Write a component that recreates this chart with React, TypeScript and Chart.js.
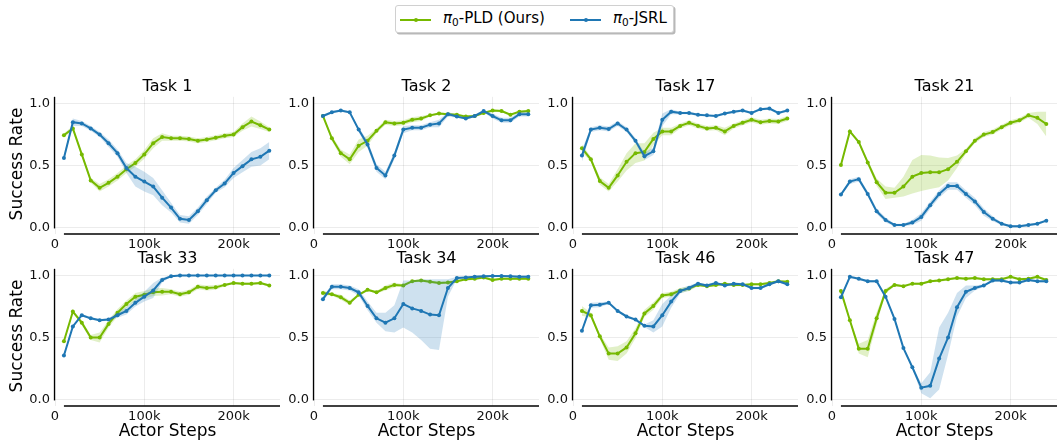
import React, { useEffect, useRef } from "react";
import { Chart, registerables } from "chart.js";
Chart.register(...registerables);

// ---------------- data ----------------
const STEPS = [10000, 20000, 30000, 40000, 50000, 60000, 70000, 80000, 90000, 100000, 110000, 120000,
  130000, 140000, 150000, 160000, 170000, 180000, 190000, 200000, 210000, 220000, 230000, 240000];
const X_TICKS = [0, 100000, 200000];
const Y_TICKS = [0, 0.5, 1.0];
const SERIES_NAMES = ["PLD (Ours)", "JSRL"];

const pld1 = [0.745, 0.80, 0.59, 0.38, 0.32, 0.36, 0.41, 0.47, 0.52, 0.59, 0.68, 0.73, 0.72, 0.72, 0.715, 0.70, 0.71, 0.725, 0.74, 0.75, 0.81, 0.855, 0.825, 0.79];
const pld1Err = [0.015, 0.02, 0.02, 0.02, 0.03, 0.03, 0.03, 0.03, 0.03, 0.035, 0.04, 0.03, 0.02, 0.02, 0.02, 0.02, 0.02, 0.02, 0.02, 0.02, 0.03, 0.04, 0.03, 0.02];
const jsrl1 = [0.56, 0.85, 0.84, 0.80, 0.75, 0.68, 0.60, 0.48, 0.41, 0.37, 0.33, 0.24, 0.16, 0.07, 0.06, 0.13, 0.22, 0.30, 0.355, 0.44, 0.495, 0.55, 0.57, 0.62];
const jsrl1Err = [0.02, 0.03, 0.02, 0.02, 0.02, 0.03, 0.03, 0.04, 0.08, 0.08, 0.07, 0.06, 0.04, 0.03, 0.03, 0.03, 0.03, 0.02, 0.03, 0.04, 0.05, 0.06, 0.07, 0.07];

const pld2 = [0.90, 0.72, 0.60, 0.55, 0.66, 0.70, 0.78, 0.85, 0.84, 0.845, 0.87, 0.88, 0.905, 0.92, 0.915, 0.91, 0.895, 0.90, 0.925, 0.945, 0.94, 0.91, 0.935, 0.94];
const pld2Err = [0.01, 0.02, 0.03, 0.04, 0.05, 0.04, 0.02, 0.02, 0.02, 0.02, 0.02, 0.02, 0.01, 0.01, 0.01, 0.01, 0.01, 0.01, 0.01, 0.01, 0.01, 0.01, 0.01, 0.01];
const jsrl2 = [0.90, 0.93, 0.945, 0.93, 0.79, 0.67, 0.48, 0.42, 0.58, 0.79, 0.805, 0.805, 0.83, 0.84, 0.915, 0.895, 0.88, 0.90, 0.94, 0.90, 0.865, 0.865, 0.915, 0.915];
const jsrl2Err = [0.01, 0.01, 0.01, 0.01, 0.02, 0.03, 0.03, 0.03, 0.03, 0.03, 0.02, 0.02, 0.02, 0.03, 0.02, 0.01, 0.01, 0.01, 0.01, 0.02, 0.02, 0.02, 0.02, 0.02];

const pld17 = [0.64, 0.55, 0.375, 0.32, 0.42, 0.53, 0.60, 0.61, 0.715, 0.775, 0.775, 0.82, 0.845, 0.82, 0.80, 0.805, 0.775, 0.82, 0.845, 0.87, 0.85, 0.86, 0.855, 0.88];
const pld17Err = [0.03, 0.02, 0.03, 0.03, 0.05, 0.07, 0.08, 0.07, 0.05, 0.03, 0.03, 0.02, 0.02, 0.02, 0.02, 0.02, 0.03, 0.02, 0.02, 0.02, 0.02, 0.02, 0.02, 0.02];
const jsrl17 = [0.58, 0.79, 0.805, 0.795, 0.84, 0.79, 0.70, 0.575, 0.615, 0.87, 0.935, 0.925, 0.925, 0.91, 0.905, 0.90, 0.92, 0.935, 0.945, 0.925, 0.955, 0.96, 0.925, 0.945];
const jsrl17Err = [0.05, 0.02, 0.02, 0.02, 0.02, 0.02, 0.02, 0.03, 0.03, 0.05, 0.02, 0.01, 0.01, 0.01, 0.01, 0.01, 0.01, 0.01, 0.01, 0.01, 0.01, 0.01, 0.01, 0.01];

const pld21 = [0.505, 0.775, 0.69, 0.525, 0.365, 0.28, 0.28, 0.33, 0.41, 0.44, 0.445, 0.445, 0.47, 0.53, 0.615, 0.70, 0.75, 0.77, 0.81, 0.845, 0.865, 0.905, 0.885, 0.835];
const pld21Err = [0.01, 0.01, 0.01, 0.02, 0.03, 0.05, 0.04, 0.08, 0.135, 0.145, 0.135, 0.12, 0.09, 0.05, 0.02, 0.02, 0.02, 0.02, 0.02, 0.02, 0.02, 0.02, 0.05, 0.10];
const jsrl21 = [0.265, 0.37, 0.39, 0.27, 0.13, 0.06, 0.02, 0.02, 0.04, 0.085, 0.18, 0.27, 0.335, 0.335, 0.27, 0.21, 0.125, 0.07, 0.03, 0.01, 0.01, 0.02, 0.03, 0.055];
const jsrl21Err = [0.01, 0.02, 0.02, 0.02, 0.02, 0.02, 0.01, 0.01, 0.02, 0.03, 0.03, 0.03, 0.03, 0.03, 0.03, 0.03, 0.03, 0.02, 0.01, 0.01, 0.01, 0.01, 0.01, 0.01];

const pld33 = [0.47, 0.71, 0.62, 0.50, 0.50, 0.61, 0.70, 0.77, 0.83, 0.845, 0.865, 0.87, 0.87, 0.85, 0.865, 0.91, 0.90, 0.905, 0.925, 0.94, 0.935, 0.935, 0.94, 0.92];
const pld33Err = [0.01, 0.01, 0.02, 0.02, 0.04, 0.03, 0.03, 0.03, 0.03, 0.03, 0.03, 0.03, 0.02, 0.02, 0.02, 0.02, 0.02, 0.02, 0.01, 0.01, 0.01, 0.01, 0.01, 0.01];
const jsrl33 = [0.355, 0.59, 0.68, 0.655, 0.64, 0.645, 0.68, 0.715, 0.78, 0.83, 0.88, 0.965, 0.995, 1, 1, 1, 1, 1, 1, 1, 1, 1, 1, 1];
const jsrl33Err = [0.01, 0.01, 0.01, 0.01, 0.01, 0.01, 0.02, 0.03, 0.03, 0.04, 0.06, 0.02, 0.005, 0, 0, 0, 0, 0, 0, 0, 0, 0, 0, 0];

const pld34 = [0.86, 0.85, 0.825, 0.78, 0.845, 0.885, 0.865, 0.90, 0.925, 0.92, 0.955, 0.96, 0.95, 0.94, 0.945, 0.955, 0.97, 0.975, 0.985, 0.965, 0.975, 0.975, 0.975, 0.975];
const pld34Err = [0.02, 0.01, 0.02, 0.02, 0.01, 0.01, 0.01, 0.02, 0.02, 0.01, 0.01, 0.01, 0.01, 0.01, 0.01, 0.01, 0.01, 0.01, 0.01, 0.01, 0.01, 0.01, 0.01, 0.01];
const jsrl34 = [0.81, 0.91, 0.91, 0.90, 0.865, 0.755, 0.655, 0.62, 0.655, 0.77, 0.735, 0.715, 0.685, 0.68, 0.90, 0.98, 0.985, 0.99, 0.995, 0.997, 0.997, 0.995, 0.99, 0.99];
const jsrl34Lo = [0.79, 0.89, 0.89, 0.88, 0.84, 0.72, 0.62, 0.55, 0.54, 0.58, 0.54, 0.48, 0.41, 0.40, 0.83, 0.97, 0.98, 0.98, 0.99, 0.99, 0.99, 0.99, 0.98, 0.98];
const jsrl34Hi = [0.83, 0.93, 0.93, 0.92, 0.89, 0.79, 0.70, 0.70, 0.76, 0.96, 0.96, 0.97, 0.97, 0.97, 0.97, 0.99, 0.99, 1.0, 1.0, 1.0, 1.0, 1.0, 1.0, 1.0];

const pld46 = [0.715, 0.68, 0.51, 0.37, 0.37, 0.42, 0.535, 0.695, 0.755, 0.84, 0.85, 0.88, 0.895, 0.925, 0.915, 0.925, 0.935, 0.925, 0.925, 0.93, 0.93, 0.94, 0.955, 0.95];
const pld46Err = [0.04, 0.02, 0.02, 0.05, 0.06, 0.05, 0.04, 0.03, 0.03, 0.02, 0.02, 0.02, 0.02, 0.01, 0.01, 0.01, 0.01, 0.01, 0.01, 0.01, 0.01, 0.01, 0.01, 0.01];
const jsrl46 = [0.555, 0.76, 0.765, 0.78, 0.715, 0.67, 0.645, 0.595, 0.59, 0.68, 0.79, 0.875, 0.90, 0.935, 0.92, 0.94, 0.92, 0.935, 0.93, 0.90, 0.90, 0.93, 0.955, 0.93];
const jsrl46Err = [0.01, 0.02, 0.02, 0.01, 0.01, 0.01, 0.01, 0.01, 0.05, 0.09, 0.05, 0.02, 0.02, 0.01, 0.01, 0.01, 0.01, 0.01, 0.01, 0.01, 0.01, 0.01, 0.01, 0.01];

const pld47 = [0.875, 0.64, 0.41, 0.41, 0.655, 0.875, 0.925, 0.915, 0.935, 0.935, 0.955, 0.96, 0.97, 0.98, 0.975, 0.98, 0.97, 0.97, 0.97, 0.99, 0.97, 0.975, 0.99, 0.965];
const pld47Err = [0.02, 0.01, 0.04, 0.07, 0.05, 0.02, 0.01, 0.01, 0.01, 0.01, 0.01, 0.01, 0.01, 0.01, 0.01, 0.01, 0.01, 0.01, 0.01, 0.01, 0.01, 0.01, 0.01, 0.01];
const jsrl47 = [0.825, 0.99, 0.975, 0.955, 0.955, 0.83, 0.65, 0.415, 0.26, 0.095, 0.11, 0.33, 0.50, 0.745, 0.87, 0.90, 0.92, 0.96, 0.96, 0.945, 0.945, 0.965, 0.955, 0.955];
const jsrl47Lo = [0.81, 0.98, 0.965, 0.945, 0.945, 0.82, 0.64, 0.405, 0.25, 0.05, 0.01, 0.08, 0.36, 0.67, 0.82, 0.88, 0.91, 0.95, 0.95, 0.935, 0.935, 0.955, 0.945, 0.945];
const jsrl47Hi = [0.84, 1.0, 0.985, 0.965, 0.965, 0.84, 0.66, 0.425, 0.27, 0.13, 0.22, 0.58, 0.70, 0.86, 0.92, 0.92, 0.93, 0.97, 0.97, 0.955, 0.955, 0.975, 0.965, 0.965];

// ---------------- styling ----------------
const GREEN = "#76b900";
const GREEN_FILL = "rgba(118,185,0,0.22)";
const BLUE = "#1f77b4";
const BLUE_FILL = "rgba(31,119,180,0.22)";
const GRID = "rgba(0,0,0,0.075)";
const FONT = "'DejaVu Sans', 'Liberation Sans', sans-serif";

const lower = (m: number[], e: number[]) => m.map((v, i) => v - e[i]);
const upper = (m: number[], e: number[]) => m.map((v, i) => v + e[i]);

type PanelSpec = {
  title: string;
  pld: number[]; pldLo: number[]; pldHi: number[];
  jsrl: number[]; jsrlLo: number[]; jsrlHi: number[];
};

const PANELS: PanelSpec[] = [
  { title: "Task 1", pld: pld1, pldLo: lower(pld1, pld1Err), pldHi: upper(pld1, pld1Err), jsrl: jsrl1, jsrlLo: lower(jsrl1, jsrl1Err), jsrlHi: upper(jsrl1, jsrl1Err) },
  { title: "Task 2", pld: pld2, pldLo: lower(pld2, pld2Err), pldHi: upper(pld2, pld2Err), jsrl: jsrl2, jsrlLo: lower(jsrl2, jsrl2Err), jsrlHi: upper(jsrl2, jsrl2Err) },
  { title: "Task 17", pld: pld17, pldLo: lower(pld17, pld17Err), pldHi: upper(pld17, pld17Err), jsrl: jsrl17, jsrlLo: lower(jsrl17, jsrl17Err), jsrlHi: upper(jsrl17, jsrl17Err) },
  { title: "Task 21", pld: pld21, pldLo: lower(pld21, pld21Err), pldHi: upper(pld21, pld21Err), jsrl: jsrl21, jsrlLo: lower(jsrl21, jsrl21Err), jsrlHi: upper(jsrl21, jsrl21Err) },
  { title: "Task 33", pld: pld33, pldLo: lower(pld33, pld33Err), pldHi: upper(pld33, pld33Err), jsrl: jsrl33, jsrlLo: lower(jsrl33, jsrl33Err), jsrlHi: upper(jsrl33, jsrl33Err) },
  { title: "Task 34", pld: pld34, pldLo: lower(pld34, pld34Err), pldHi: upper(pld34, pld34Err), jsrl: jsrl34, jsrlLo: jsrl34Lo, jsrlHi: jsrl34Hi },
  { title: "Task 46", pld: pld46, pldLo: lower(pld46, pld46Err), pldHi: upper(pld46, pld46Err), jsrl: jsrl46, jsrlLo: lower(jsrl46, jsrl46Err), jsrlHi: upper(jsrl46, jsrl46Err) },
  { title: "Task 47", pld: pld47, pldLo: lower(pld47, pld47Err), pldHi: upper(pld47, pld47Err), jsrl: jsrl47, jsrlLo: jsrl47Lo, jsrlHi: jsrl47Hi },
];

// layout
const COL_X0 = [55, 314, 573, 832]; // pixel of x = 0
const ROW_TOP = [94, 266]; // chart area top
const PAD_L = 50, PAD_T = 10, PAD_R = 10, PAD_B = 25;
const PLOT_W = 225, PLOT_H = 140;
const CANVAS_W = PAD_L + PLOT_W + PAD_R;
const CANVAS_H = PAD_T + PLOT_H + PAD_B;
const X_MAX = 252000;
const Y_MIN = -0.053, Y_MAX = 1.055;

const pts = (arr: number[]) => arr.map((y, i) => ({ x: STEPS[i], y }));

const spinePlugin = {
  id: "spines",
  afterDatasetsDraw(chart: any) {
    const { ctx, chartArea, scales } = chart;
    ctx.save();
    ctx.strokeStyle = "#000";
    ctx.lineWidth = 1.3;
    const xl = scales.x.getPixelForValue(0) - 0.5;
    ctx.beginPath();
    ctx.moveTo(xl, chartArea.top);
    ctx.lineTo(xl, scales.y.getPixelForValue(0) + 1);
    ctx.stroke();
    const yb = chartArea.bottom;
    ctx.beginPath();
    ctx.moveTo(scales.x.getPixelForValue(STEPS[0]), yb);
    ctx.lineTo(chartArea.right, yb);
    ctx.stroke();
    ctx.restore();
  },
};

function Panel({ spec, left, top }: { spec: PanelSpec; left: number; top: number }) {
  const ref = useRef<HTMLCanvasElement | null>(null);
  useEffect(() => {
    if (!ref.current) return;
    const lineDs = (d: number[], color: string, order: number) => ({
      data: pts(d), borderColor: color, backgroundColor: color, borderWidth: 2,
      pointRadius: 2, pointHoverRadius: 2, pointBorderWidth: 0, fill: false, order, tension: 0,
    });
    const bandDs = (d: number[], fill: any, bg: string, order: number) => ({
      data: pts(d), borderWidth: 0, borderColor: "rgba(0,0,0,0)", pointRadius: 0, pointHoverRadius: 0,
      fill, backgroundColor: bg, order, tension: 0,
    });
    const chart = new Chart(ref.current, {
      type: "line",
      data: {
        datasets: [
          bandDs(spec.pldLo, false, GREEN_FILL, 6),
          bandDs(spec.pldHi, "-1", GREEN_FILL, 5),
          lineDs(spec.pld, GREEN, 4),
          bandDs(spec.jsrlLo, false, BLUE_FILL, 3),
          bandDs(spec.jsrlHi, "-1", BLUE_FILL, 2),
          lineDs(spec.jsrl, BLUE, 1),
        ] as any,
      },
      options: {
        animation: false,
        responsive: false,
        maintainAspectRatio: false,
        devicePixelRatio: 1,
        layout: { padding: { left: 0, top: PAD_T, right: PAD_R, bottom: 0 } },
        plugins: { legend: { display: false }, tooltip: { enabled: false }, title: { display: false } },
        events: [],
        scales: {
          x: {
            type: "linear", min: 0, max: X_MAX,
            afterBuildTicks: (s: any) => { s.ticks = X_TICKS.map((v) => ({ value: v })); },
            afterFit: (s: any) => { s.height = PAD_B; },
            ticks: {
              callback: (v: any) => (v === 0 ? "0" : `${v / 1000}k`),
              font: { family: FONT, size: 13 }, color: "#111", padding: 3, maxRotation: 0, autoSkip: false,
            },
            grid: { color: GRID, drawTicks: false, lineWidth: 1 },
            border: { display: false },
          },
          y: {
            type: "linear", min: Y_MIN, max: Y_MAX,
            afterBuildTicks: (s: any) => { s.ticks = Y_TICKS.map((v) => ({ value: v })); },
            afterFit: (s: any) => { s.width = PAD_L; },
            ticks: {
              callback: (v: any) => Number(v).toFixed(1),
              font: { family: FONT, size: 13 }, color: "#111", padding: 5, autoSkip: false,
            },
            grid: { color: GRID, drawTicks: false, lineWidth: 1 },
            border: { display: false },
          },
        },
      } as any,
      plugins: [spinePlugin],
    });
    return () => chart.destroy();
  }, [spec]);
  return (
    <canvas
      ref={ref}
      width={CANVAS_W}
      height={CANVAS_H}
      style={{ position: "absolute", left, top, width: CANVAS_W, height: CANVAS_H }}
    />
  );
}

function Label({ text, x, baseline, size }: { text: string; x: number; baseline: number; size: number }) {
  return (
    <div
      style={{
        position: "absolute", left: x, top: baseline - 0.846 * size, fontFamily: FONT, fontSize: size,
        lineHeight: `${size}px`, whiteSpace: "nowrap", transform: "translateX(-50%)", color: "#000",
      }}
    >
      {text}
    </div>
  );
}

function LegendItem({ color, name, left }: { color: string; name: string; left: number }) {
  return (
    <>
      <div style={{ position: "absolute", left, top: 12.5, width: 31, height: 2, background: color }} />
      <div style={{ position: "absolute", left: left + 13.5, top: 11.5, width: 4, height: 4, borderRadius: 2, background: color }} />
      <div style={{ position: "absolute", left: left + 43, top: 5, fontFamily: FONT, fontSize: 15, lineHeight: "15px", whiteSpace: "nowrap", color: "#000" }}>
        <span style={{ fontStyle: "italic" }}>π</span>
        <span style={{ fontSize: 10.5, position: "relative", top: 3 }}>0</span>-{name}
      </div>
    </>
  );
}

export default function App() {
  return (
    <div style={{ position: "absolute", left: 0, top: 0, width: 1057, height: 442, overflow: "hidden", background: "#fff" }}>
      {PANELS.map((spec, i) => {
        const col = i % 4, row = Math.floor(i / 4);
        const x0 = COL_X0[col];
        return (
          <React.Fragment key={spec.title}>
            <Panel spec={spec} left={x0 - PAD_L} top={ROW_TOP[row] - PAD_T} />
            <Label text={spec.title} x={x0 + PLOT_W / 2} baseline={row === 0 ? 91.5 : 264} size={16} />
            {row === 1 && <Label text="Actor Steps" x={x0 + PLOT_W / 2} baseline={436} size={17} />}
          </React.Fragment>
        );
      })}
      {[164, 336].map((cy) => (
        <div
          key={cy}
          style={{
            position: "absolute", left: 16, top: cy, fontFamily: FONT, fontSize: 17, lineHeight: "17px",
            whiteSpace: "nowrap", transform: "translate(-50%, -50%) rotate(-90deg)", color: "#000",
          }}
        >
          Success Rate
        </div>
      ))}
      <div
        style={{
          position: "absolute", left: 395, top: 5, width: 277, height: 26, border: "1px solid #d0d0d0",
          borderRadius: 3, background: "#fff", boxShadow: "1.5px 1.5px 0 rgba(0,0,0,0.28)",
        }}
      >
        <LegendItem color={GREEN} name={SERIES_NAMES[0]} left={4} />
        <LegendItem color={BLUE} name={SERIES_NAMES[1]} left={174} />
      </div>
    </div>
  );
}
